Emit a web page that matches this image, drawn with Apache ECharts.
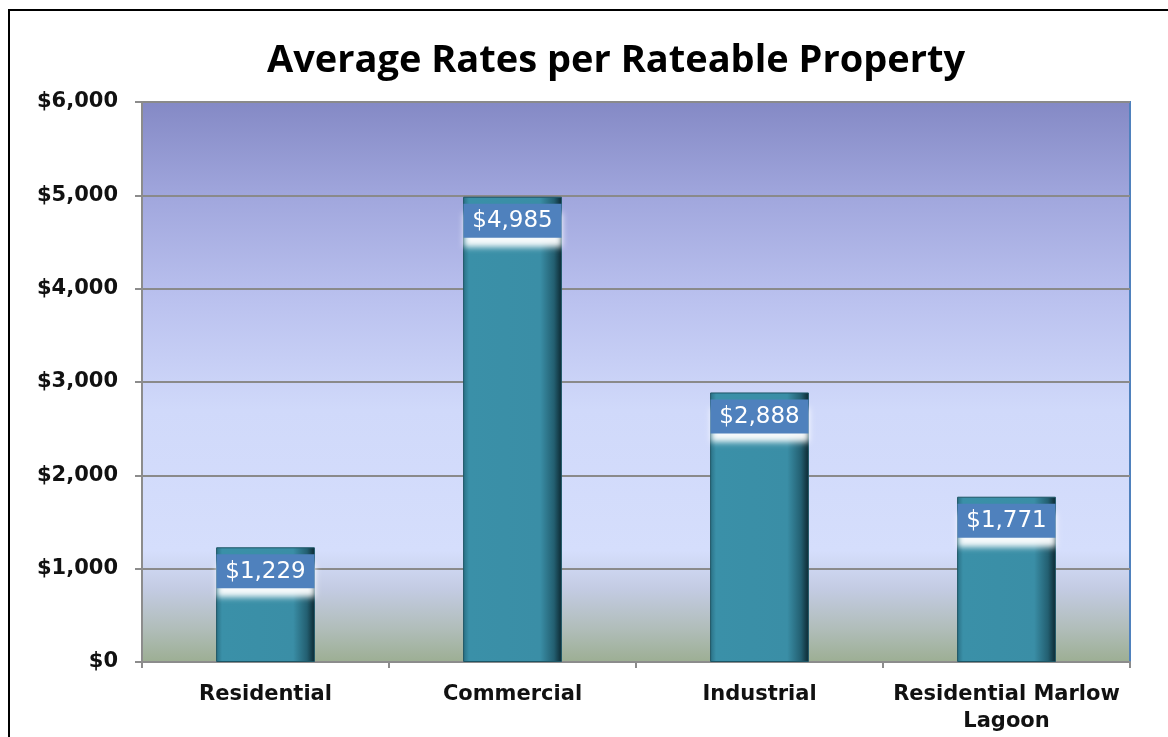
<!DOCTYPE html>
<html>
<head>
<meta charset="utf-8">
<script src="https://cdn.jsdelivr.net/npm/echarts@6/dist/echarts.min.js"></script>
<style>
  html, body { margin: 0; padding: 0; background: #ffffff; }
  #chart { width: 1168px; height: 737px; }
</style>
</head>
<body>
<div id="chart"></div>
<script>
// Average rates per rateable property, by category
const categories = ['Residential', 'Commercial', 'Industrial', 'Residential Marlow\nLagoon'];
const averageRates = [1229, 4985, 2888, 1771];
const yTicks = { min: 0, max: 6000, interval: 1000 };

const fmtMoney = v => '$' + Math.round(v).toLocaleString('en-US');

const chart = echarts.init(document.getElementById('chart'));

const barFill = {
  type: 'linear', x: 0, y: 0, x2: 1, y2: 0,
  colorStops: [
    { offset: 0.00, color: '#2a6f84' },
    { offset: 0.06, color: '#3a90a8' },
    { offset: 0.78, color: '#3a8ea6' },
    { offset: 0.92, color: '#235f71' },
    { offset: 1.00, color: '#0c2730' }
  ]
};

const plotFill = {
  type: 'linear', x: 0, y: 0, x2: 0, y2: 1,
  colorStops: [
    { offset: 0.00, color: '#8489c5' },
    { offset: 0.18, color: '#a2a8de' },
    { offset: 0.36, color: '#bbc2ef' },
    { offset: 0.55, color: '#d0d9fa' },
    { offset: 0.80, color: '#d5defc' },
    { offset: 0.87, color: '#c3cbe2' },
    { offset: 0.94, color: '#b0bdb9' },
    { offset: 1.00, color: '#9cae92' }
  ]
};

chart.setOption({
  animation: false,
  title: {
    text: 'Average Rates per Rateable Property',
    left: 262,
    top: 37,
    textStyle: { fontFamily: 'Open Sans', fontWeight: 'bold', fontSize: 38, color: '#000' }
  },
  graphic: [{
    type: 'rect',
    shape: { x: 9, y: 10, width: 1400, height: 1000 },
    style: { fill: null, stroke: '#000', lineWidth: 2 },
    silent: true
  }],
  grid: {
    left: 142, right: 38, top: 102, bottom: 75,
    show: true,
    backgroundColor: plotFill,
    borderColor: '#4f81bd',
    borderWidth: 2
  },
  xAxis: {
    type: 'category',
    data: categories,
    axisLine: { lineStyle: { color: '#8c8c8c', width: 2 } },
    axisTick: { show: true, length: 6, lineStyle: { color: '#8c8c8c', width: 2 } },
    axisLabel: {
      margin: 19,
      fontFamily: 'DejaVu Sans', fontWeight: 'bold', fontSize: 21, color: '#111',
      lineHeight: 27, interval: 0
    }
  },
  yAxis: {
    type: 'value',
    min: yTicks.min, max: yTicks.max, interval: yTicks.interval,
    axisLine: { show: true, lineStyle: { color: '#8c8c8c', width: 2 } },
    axisTick: { show: true, length: 7, lineStyle: { color: '#8c8c8c', width: 2 } },
    splitLine: { lineStyle: { color: '#8a8a8a', width: 2 } },
    axisLabel: {
      margin: 24,
      formatter: fmtMoney,
      fontFamily: 'DejaVu Sans', fontWeight: 'bold', fontSize: 21, color: '#111'
    }
  },
  series: [{
    type: 'bar',
    data: averageRates,
    barWidth: '40%',
    itemStyle: {
      color: barFill,
      borderColor: '#1d5565',
      borderWidth: 1
    },
    label: {
      show: true,
      position: 'insideTop',
      distance: 7,
      formatter: p => fmtMoney(p.value),
      fontFamily: 'DejaVu Sans', fontSize: 23, color: '#ffffff',
      backgroundColor: '#4f81bd',
      width: 88, align: 'center',
      padding: [6, 5, 5, 5],
      shadowColor: 'rgba(255,255,255,0.95)',
      shadowBlur: 6,
      shadowOffsetY: 9
    }
  }]
});
</script>
</body>
</html>
